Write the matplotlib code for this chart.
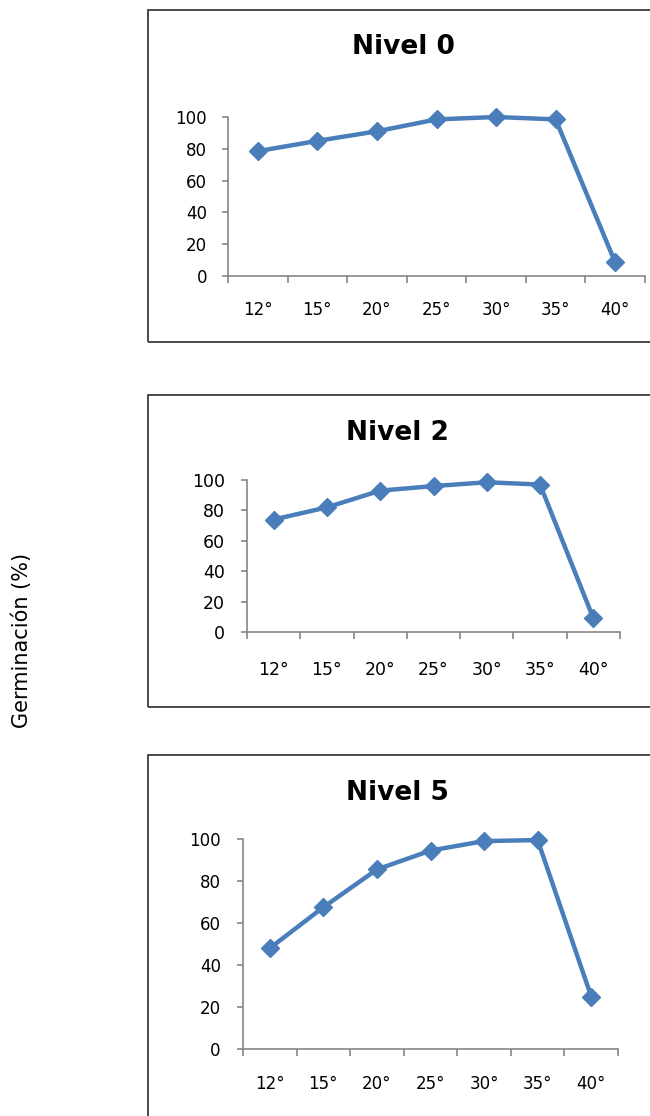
import matplotlib.pyplot as plt
from matplotlib.patches import Rectangle

temps = ['12°', '15°', '20°', '25°', '30°', '35°', '40°']
nivel_0 = [78.5, 85, 91, 98.5, 100, 98.5, 8.5]
nivel_2 = [74, 82, 93, 96, 98.5, 97, 9]
nivel_5 = [48, 67.5, 85.5, 94.5, 99, 99.5, 25]
titles = ['Nivel 0', 'Nivel 2', 'Nivel 5']

W, H = 650, 1116
fig = plt.figure(figsize=(W / 100, H / 100), dpi=100)

# pixel layout of each panel: frame box, axes box, title centre, label pads
panels = [
    dict(data=nivel_0, box=(148, 10, 560, 332), ax=(228, 117, 645, 276),
         title=(403, 47), ypad=11, xpad=18, fs=12),
    dict(data=nivel_2, box=(148, 395, 560, 312), ax=(247, 480, 620, 632),
         title=(397, 433), ypad=12, xpad=21, fs=12.5),
    dict(data=nivel_5, box=(148, 755, 560, 420), ax=(243, 839, 618, 1049),
         title=(397, 793), ypad=12, xpad=19, fs=12),
]

blue = '#4a7ebb'
grey = '#868686'

for p, title in zip(panels, titles):
    bx, by, bw, bh = p['box']
    frame = Rectangle((bx / W, 1 - (by + bh) / H), bw / W, bh / H,
                      transform=fig.transFigure, fill=False,
                      edgecolor='#3c3c3c', linewidth=1.3)
    fig.patches.append(frame)

    x0, y0, x1, y1 = p['ax']
    ax = fig.add_axes([x0 / W, 1 - y1 / H, (x1 - x0) / W, (y1 - y0) / H])
    xs = range(len(temps))
    ax.plot(xs, p['data'], color=blue, linewidth=3.2, marker='D',
            markersize=9, clip_on=False, zorder=3)

    ax.set_xlim(-0.5, len(temps) - 0.5)
    ax.set_ylim(0, 100)
    ax.set_yticks(range(0, 101, 20))
    ax.set_xticks([i - 0.5 for i in range(len(temps) + 1)])
    ax.set_xticklabels([])
    ax.set_xticks(list(xs), minor=True)
    ax.set_xticklabels(temps, minor=True)

    for s in ['top', 'right']:
        ax.spines[s].set_visible(False)
    for s in ['left', 'bottom']:
        ax.spines[s].set_color(grey)
        ax.spines[s].set_linewidth(1.2)

    ax.tick_params(axis='y', direction='out', length=4, width=1.2,
                   color=grey, pad=p['ypad'], labelsize=p['fs'])
    ax.tick_params(axis='x', which='major', direction='out', length=5,
                   width=1.2, color=grey)
    ax.tick_params(axis='x', which='minor', length=0, pad=p['xpad'],
                   labelsize=p['fs'])

    tx, ty = p['title']
    fig.text(tx / W, 1 - ty / H, title, ha='center', va='center',
             fontsize=19, fontweight='bold')

fig.text(22 / W, 1 - 640 / H, 'Germinación (%)', rotation=90,
         ha='center', va='center', fontsize=15)

fig.savefig('out.png', dpi=100)
